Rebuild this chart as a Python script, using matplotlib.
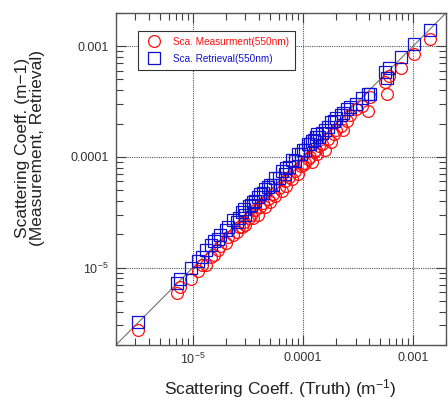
import matplotlib
matplotlib.use("Agg")
import matplotlib.pyplot as plt
import numpy as np
from matplotlib.ticker import LogLocator, NullFormatter

plt.rcParams['font.family'] = ['Liberation Sans', 'DejaVu Sans']
plt.rcParams['mathtext.fontset'] = 'custom'
plt.rcParams['mathtext.rm'] = 'Liberation Sans'
plt.rcParams['mathtext.it'] = 'Liberation Sans'
plt.rcParams['mathtext.default'] = 'regular'

# truth scattering coefficient (m-1)
truth = [3.2e-6, 7.2e-6, 7.6e-6, 9.6e-6, 1.1e-5, 1.2e-5, 1.3e-5, 1.45e-5, 1.55e-5,
         1.7e-5, 1.75e-5, 2.0e-5, 2.1e-5, 2.3e-5, 2.5e-5, 2.6e-5, 2.8e-5, 2.9e-5,
         3.0e-5, 3.2e-5, 3.4e-5, 3.5e-5, 3.7e-5, 3.9e-5, 4.1e-5, 4.3e-5, 4.5e-5,
         4.8e-5, 5.0e-5, 5.3e-5, 5.6e-5, 6.0e-5, 6.5e-5, 6.8e-5, 7.0e-5, 7.5e-5,
         8.0e-5, 8.5e-5, 9.0e-5, 9.5e-5, 1.0e-4, 1.05e-4, 1.1e-4, 1.15e-4, 1.2e-4,
         1.25e-4, 1.3e-4, 1.35e-4, 1.4e-4, 1.5e-4, 1.6e-4, 1.7e-4, 1.8e-4, 1.9e-4,
         2.0e-4, 2.2e-4, 2.3e-4, 2.5e-4, 2.7e-4, 3.0e-4, 3.4e-4, 3.9e-4, 4.1e-4,
         5.6e-4, 5.8e-4, 6.1e-4, 7.7e-4, 1.02e-3, 1.43e-3]
meas = [2.75e-6, 5.9e-6, 6.7e-6, 7.8e-6, 9.3e-6, 1.05e-5, 1.05e-5, 1.25e-5, 1.3e-5,
        1.45e-5, 1.55e-5, 1.65e-5, 1.9e-5, 1.95e-5, 2.1e-5, 2.3e-5, 2.3e-5, 2.6e-5,
        2.4e-5, 2.8e-5, 3.0e-5, 2.8e-5, 3.3e-5, 3.0e-5, 3.5e-5, 3.8e-5, 3.5e-5,
        4.2e-5, 3.9e-5, 4.6e-5, 4.4e-5, 5.2e-5, 4.9e-5, 6.0e-5, 5.4e-5, 6.6e-5,
        6.3e-5, 7.5e-5, 7.0e-5, 8.3e-5, 8.5e-5, 8.8e-5, 9.5e-5, 1.0e-4, 9.0e-5,
        1.1e-4, 1.15e-4, 1.05e-4, 1.25e-4, 1.3e-4, 1.15e-4, 1.45e-4, 1.35e-4, 1.6e-4,
        1.75e-4, 1.9e-4, 1.75e-4, 2.1e-4, 2.4e-4, 2.7e-4, 2.9e-4, 2.6e-4, 3.5e-4,
        4.7e-4, 3.7e-4, 5.4e-4, 6.4e-4, 8.5e-4, 1.16e-3]
retr = [3.2e-6, 7.3e-6, 7.9e-6, 9.9e-6, 1.15e-5, 1.25e-5, 1.45e-5, 1.6e-5, 1.75e-5,
        1.8e-5, 1.95e-5, 2.2e-5, 2.3e-5, 2.7e-5, 2.6e-5, 2.8e-5, 3.2e-5, 3.4e-5,
        3.0e-5, 3.6e-5, 3.7e-5, 3.9e-5, 4.0e-5, 4.3e-5, 4.6e-5, 4.7e-5, 5.1e-5,
        5.3e-5, 5.6e-5, 5.6e-5, 6.4e-5, 6.4e-5, 7.5e-5, 7.0e-5, 8.0e-5, 8.1e-5,
        9.3e-5, 9.2e-5, 1.05e-4, 1.05e-4, 1.15e-4, 1.15e-4, 1.3e-4, 1.3e-4, 1.4e-4,
        1.42e-4, 1.5e-4, 1.6e-4, 1.5e-4, 1.65e-4, 1.75e-4, 1.85e-4, 2.05e-4, 2.1e-4,
        2.25e-4, 2.4e-4, 2.5e-4, 2.7e-4, 2.8e-4, 3.0e-4, 3.4e-4, 3.7e-4, 3.7e-4,
        5.8e-4, 5.2e-4, 6.3e-4, 7.9e-4, 1.04e-3, 1.41e-3]

lims = [2e-6, 2e-3]
xticks = [1e-5, 1e-4, 1e-3]
xticklabels = [r'$10^{-5}$', '0.0001', '0.001']
red = '#ff1010'
blue = '#1010d0'

fig = plt.figure(figsize=(4.48, 4.01), dpi=100)
ax = fig.add_axes([0.259, 0.140, 0.737, 0.828])

ax.plot(lims, lims, color='#707070', lw=0.8, zorder=1)
ax.plot(truth, meas, 'o', mfc='none', mec=red, mew=0.9, ms=8.5,
        label='Sca. Measurment(550nm)', zorder=2)
ax.plot(truth, retr, 's', mfc='none', mec=blue, mew=0.9, ms=8.5,
        label='Sca. Retrieval(550nm)', zorder=3)

ax.set_xscale('log')
ax.set_yscale('log')
ax.set_xlim(lims)
ax.set_ylim(lims)
ax.set_xticks(xticks)
ax.set_xticklabels(xticklabels)
ax.set_yticks(xticks)
ax.set_yticklabels(xticklabels)
for a in (ax.xaxis, ax.yaxis):
    a.set_minor_locator(LogLocator(base=10, subs=np.arange(2, 10)))
    a.set_minor_formatter(NullFormatter())

ax.tick_params(which='both', direction='in', top=True, right=True,
               colors='#404040', labelcolor='#333333', labelsize=9)
ax.tick_params(which='major', length=7, width=0.8, pad=5)
ax.tick_params(which='minor', length=5, width=0.8)
ax.grid(which='major', color='#555555', ls=(0, (1, 1)), lw=0.8)
for s in ax.spines.values():
    s.set_color('#555555')
    s.set_linewidth(1.0)

leg = ax.legend(loc='upper left', bbox_to_anchor=(0.052, 0.961), fontsize=7.2,
                fancybox=False, edgecolor='#333333',
                framealpha=1, borderpad=0.6, handletextpad=0.9, labelspacing=0.7)
leg.get_frame().set_linewidth(0.8)
for t, c in zip(leg.get_texts(), [red, blue]):
    t.set_color(c)

fig.text(0.625, 0.032, r'Scattering Coeff. (Truth) (m$^{-1}$)', ha='center',
         va='center', fontsize=12.5, color='#222222')
fig.text(0.068, 0.63, 'Scattering Coeff. (m\u22121)\n(Measurement, Retrieval)',
         rotation=90, ha='center', va='center', fontsize=12.5, color='#222222',
         multialignment='center', linespacing=1.0)

fig.savefig('out.png', dpi=100)
